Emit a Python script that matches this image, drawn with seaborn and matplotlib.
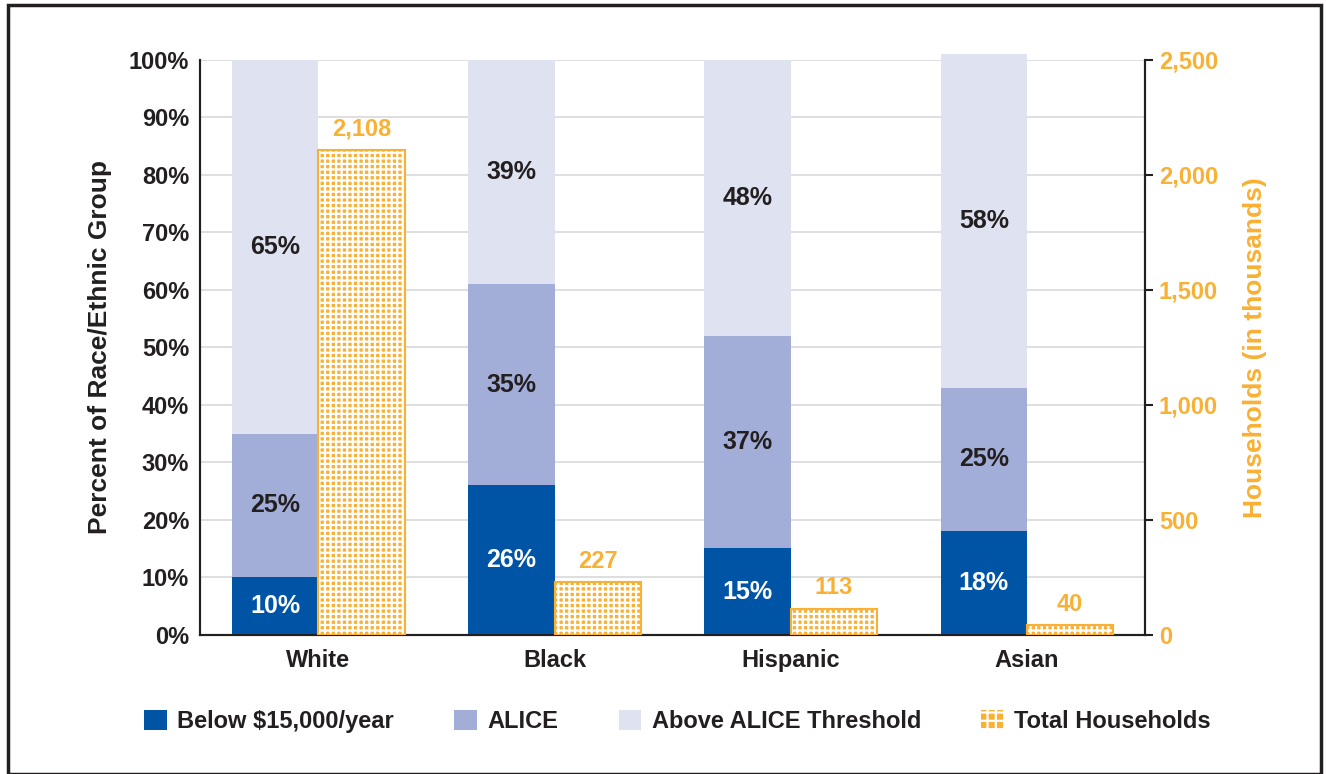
import numpy as np
import pandas as pd
import seaborn as sns
import matplotlib.pyplot as plt
from matplotlib.patches import Patch, Rectangle

groups = ['White', 'Black', 'Hispanic', 'Asian']
below = [10, 26, 15, 18]
alice = [25, 35, 37, 25]
above = [65, 39, 48, 58]
total_households = [2108, 227, 113, 40]

c_below = '#0054A6'
c_alice = '#A3AED8'
c_above = '#DFE2F1'
c_total = '#F8B134'
c_text = '#231F20'

sns.set_theme(style='white')
plt.rcParams['font.family'] = ['Liberation Sans', 'DejaVu Sans']
plt.rcParams['font.weight'] = 'bold'
plt.rcParams['hatch.linewidth'] = 1.6

fig = plt.figure(figsize=(13.26, 7.74), dpi=100)
ax = fig.add_axes([0.151, 0.18, 0.7125, 0.7425])
ax2 = ax.twinx()

x = np.arange(len(groups))
w = 0.365
xs = x - w / 2
xt = x + w / 2

# stacked percentage bars
ax.bar(xs, below, w, color=c_below, linewidth=0, clip_on=False, zorder=3)
ax.bar(xs, alice, w, bottom=below, color=c_alice, linewidth=0, clip_on=False, zorder=3)
bottom2 = np.array(below) + np.array(alice)
ax.bar(xs, above, w, bottom=bottom2, color=c_above, linewidth=0, clip_on=False, zorder=3)

for i in range(len(groups)):
    ax.text(xs[i], below[i] / 2, f'{below[i]}%', ha='center', va='center',
            color='white', fontsize=18, fontweight='bold', zorder=5)
    ax.text(xs[i], below[i] + alice[i] / 2, f'{alice[i]}%', ha='center', va='center',
            color=c_text, fontsize=18, fontweight='bold', zorder=5)
    ax.text(xs[i], bottom2[i] + above[i] / 2, f'{above[i]}%', ha='center', va='center',
            color=c_text, fontsize=18, fontweight='bold', zorder=5)

# total households bars, dotted pattern
ax2.bar(xt, total_households, w, color=c_total, linewidth=0, zorder=3)
ax2.bar(xt, total_households, w, fill=False, hatch='+++', edgecolor='white', linewidth=0, zorder=4)
ax2.bar(xt, total_households, w, fill=False, edgecolor=c_total, linewidth=1.5, zorder=5)
for i in range(len(groups)):
    ax2.annotate(f'{total_households[i]:,}', (xt[i], total_households[i]),
                 xytext=(0, 7), textcoords='offset points', ha='center', va='bottom',
                 color=c_total, fontsize=17, fontweight='bold')

ax.set_xlim(-0.5, len(groups) - 0.5)
ax.set_ylim(0, 100)
ax.set_yticks(range(0, 101, 10))
ax.set_yticklabels([f'{v}%' for v in range(0, 101, 10)])
ax2.set_ylim(0, 2500)
ax2.set_yticks(range(0, 2501, 500))
ax2.set_yticklabels([f'{v:,}' for v in range(0, 2501, 500)])

ax.set_xticks(x)
ax.set_xticklabels(groups)
ax.yaxis.grid(True, color='#D9D9D9', linewidth=1.2, zorder=0)
ax.set_axisbelow(True)

ax.set_ylabel('Percent of Race/Ethnic Group', fontsize=19, fontweight='bold', color=c_text, labelpad=12)
ax2.set_ylabel('Households (in thousands)', fontsize=19, fontweight='bold', color=c_total, labelpad=18)

for a in (ax, ax2):
    a.spines['top'].set_visible(False)
    for s in ('left', 'right', 'bottom'):
        a.spines[s].set_color(c_text)
        a.spines[s].set_linewidth(1.5)
ax.tick_params(axis='y', labelsize=17, colors=c_text, length=0, pad=8, left=False)
ax.tick_params(axis='x', labelsize=17, colors=c_text, length=0, pad=10)
ax2.tick_params(axis='y', labelsize=17, length=6, width=1.5, right=True, colors=c_text,
                labelcolor=c_total, pad=4)
for t in ax.get_yticklabels() + ax.get_xticklabels() + ax2.get_yticklabels():
    t.set_fontweight('bold')

handles = [
    Patch(facecolor=c_below, linewidth=0, label='Below $15,000/year'),
    Patch(facecolor=c_alice, linewidth=0, label='ALICE'),
    Patch(facecolor=c_above, linewidth=0, label='Above ALICE Threshold'),
    Patch(facecolor=c_total, edgecolor='white', linewidth=0, hatch='++', label='Total Households'),
]
leg = fig.legend(handles=handles, loc='center', bbox_to_anchor=(0.511, 0.068), ncol=4,
                 frameon=False, fontsize=17, handlelength=0.95, handleheight=0.95,
                 columnspacing=2.55, handletextpad=0.45)
for t in leg.get_texts():
    t.set_fontweight('bold')
    t.set_color(c_text)

fig.patches.append(Rectangle((0.006, 0.0), 0.99, 0.993, transform=fig.transFigure,
                             fill=False, edgecolor=c_text, linewidth=2.5))

fig.savefig('out.png', dpi=100)
